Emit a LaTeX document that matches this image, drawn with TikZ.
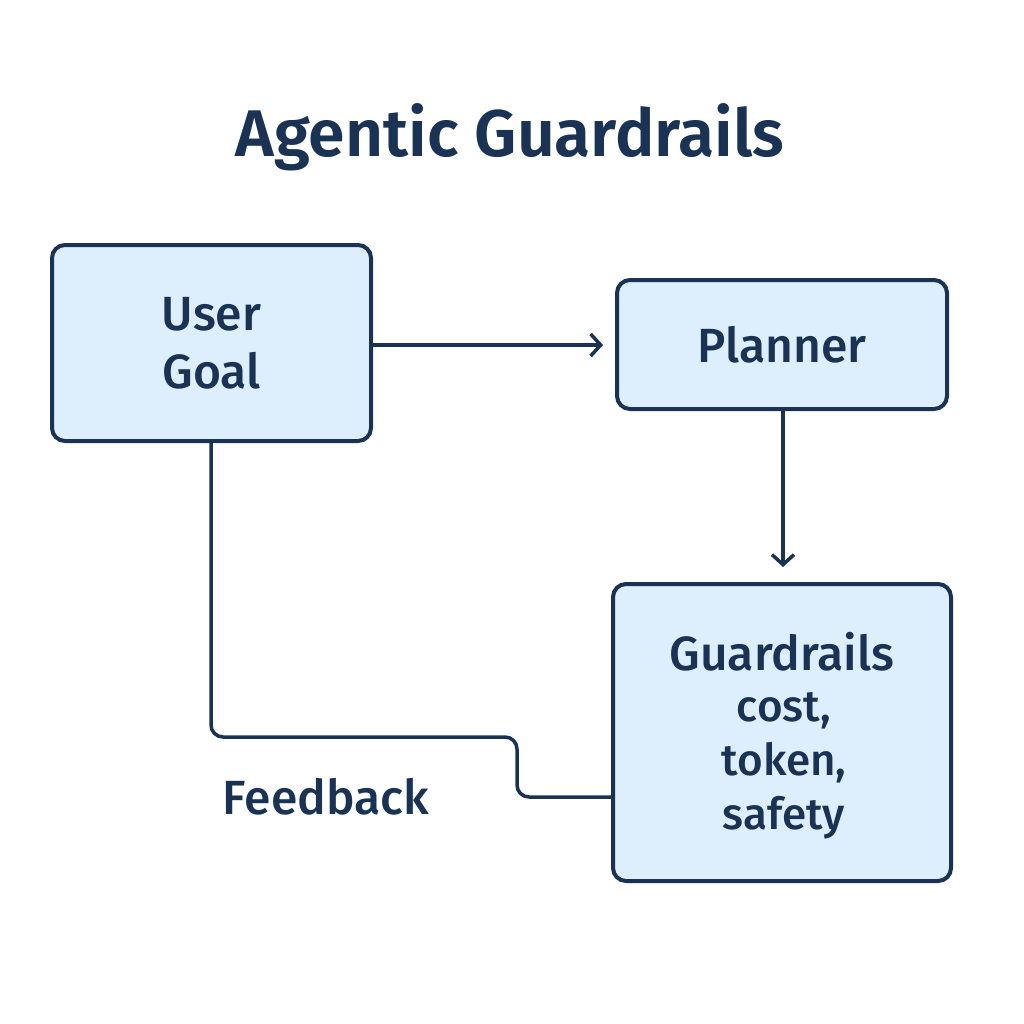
\documentclass[tikz,border=0pt]{standalone}
\usepackage{fontspec}
\setmainfont{Fira Sans}[UprightFont=* Medium, BoldFont=* SemiBold]
\usetikzlibrary{arrows.meta}
\definecolor{navy}{HTML}{1A3355}
\definecolor{boxfill}{HTML}{DDEFFC}
\begin{document}
\begin{tikzpicture}[x=1pt,y=-1pt,
  box/.style={draw=navy,fill=boxfill,line width=4pt,rounded corners=13pt,text=navy,align=center,inner sep=0pt},
  conn/.style={draw=navy,line width=3.5pt},
  arr/.style={conn,-{Straight Barb[length=10pt,width=22pt,line width=3.5pt]}}]
\useasboundingbox (0,0) rectangle (1024,1024);
\node[text=navy,font=\fontsize{66}{70}\selectfont\bfseries] (title) at (510,137) {Agentic Guardrails};
\node[box,minimum width=319pt,minimum height=196pt,font=\fontsize{48}{58}\selectfont] (user) at (211.5,343) {User\\Goal};
\node[box,minimum width=330pt,minimum height=129pt,font=\fontsize{48}{50}\selectfont] (plan) at (782,344.5) {Planner};
\node[box,minimum width=338pt,minimum height=297pt] (guard) at (782,732.5) {};
\node[text=navy,font=\fontsize{48}{50}\selectfont] (gt) at (782,652) {Guardrails};
\node[text=navy,align=center,font=\fontsize{44}{54}\selectfont] (gl) at (784,766) {cost,\\token,\\safety};
\coordinate (uend) at (603,345);
\draw[arr] (user.east |- uend) -- (uend);
\coordinate (pend) at (783,567);
\draw[arr] (plan.south -| pend) -- (pend);
\coordinate (f1) at (211,737);
\coordinate (f2) at (517,797);
\draw[conn,rounded corners=12pt] (user.south -| f1) -- (f1) -- (f2 |- f1) -- (f2) -- (guard.west |- f2);
\node[text=navy,font=\fontsize{48}{50}\selectfont] (fb) at (326,797) {Feedback};
\end{tikzpicture}
\end{document}
